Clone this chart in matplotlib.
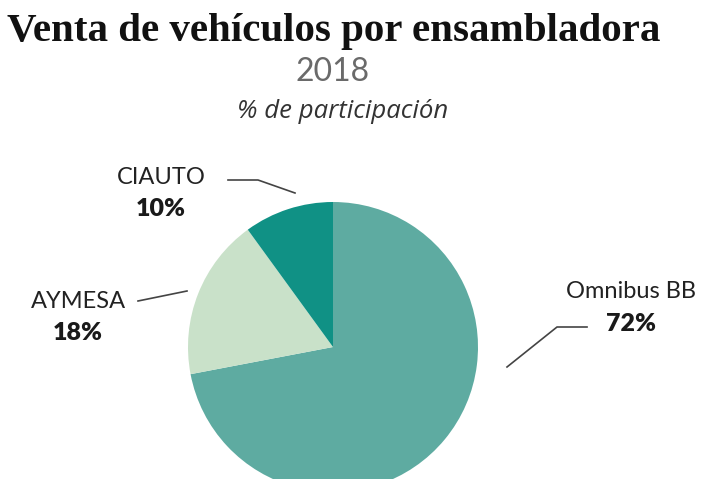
import matplotlib.pyplot as plt

# datos
ensambladoras = ['Omnibus BB', 'AYMESA', 'CIAUTO']
participacion = [72, 18, 10]
colores = ['#5eaba1', '#c9e1c9', '#109185']

# posiciones de las etiquetas (pixeles, y hacia arriba)
etiquetas_xy = [(631, 187), (78, 178), (161, 302)]
lineas = [
    [(587, 152), (557, 152), (507, 112)],
    [(138, 178), (187, 188)],
    [(228, 299), (258, 299), (295, 286)],
]

fig = plt.figure(figsize=(7.08, 4.79), dpi=100)
ax = fig.add_axes([0, 0, 1, 1])

ax.pie(participacion, colors=colores, startangle=90, counterclock=False,
       center=(333, 132), radius=145, frame=True,
       wedgeprops=dict(linewidth=0))
ax.set_xlim(0, 708)
ax.set_ylim(0, 479)
ax.set_aspect('equal')
ax.axis('off')

for nombre, valor, (x, y), linea in zip(ensambladoras, participacion, etiquetas_xy, lineas):
    ax.text(x, y, nombre, ha='center', va='center', fontsize=17,
            family='Lato', color='#222222')
    ax.text(x, y - 32, f'{valor}%', ha='center', va='center', fontsize=18,
            family='Lato', fontweight='heavy', color='#1a1a1a')
    xs, ys = zip(*linea)
    ax.plot(xs, ys, color='#444444', lw=1.2)

# titulos
fig.text(0.472, 1 - 31 / 479, 'Venta de vehículos por ensambladora', ha='center', va='center',
         fontsize=29.5, family='Liberation Serif', fontweight='bold', color='#111111')
fig.text(0.470, 1 - 72 / 479, '2018', ha='center', va='center',
         fontsize=23, family='Lato', color='#6a6a6a')
fig.text(0.484, 1 - 112 / 479, '% de participación', ha='center', va='center',
         fontsize=18.5, family='Open Sans', style='italic', color='#333333')

fig.savefig('out.png', dpi=100)
